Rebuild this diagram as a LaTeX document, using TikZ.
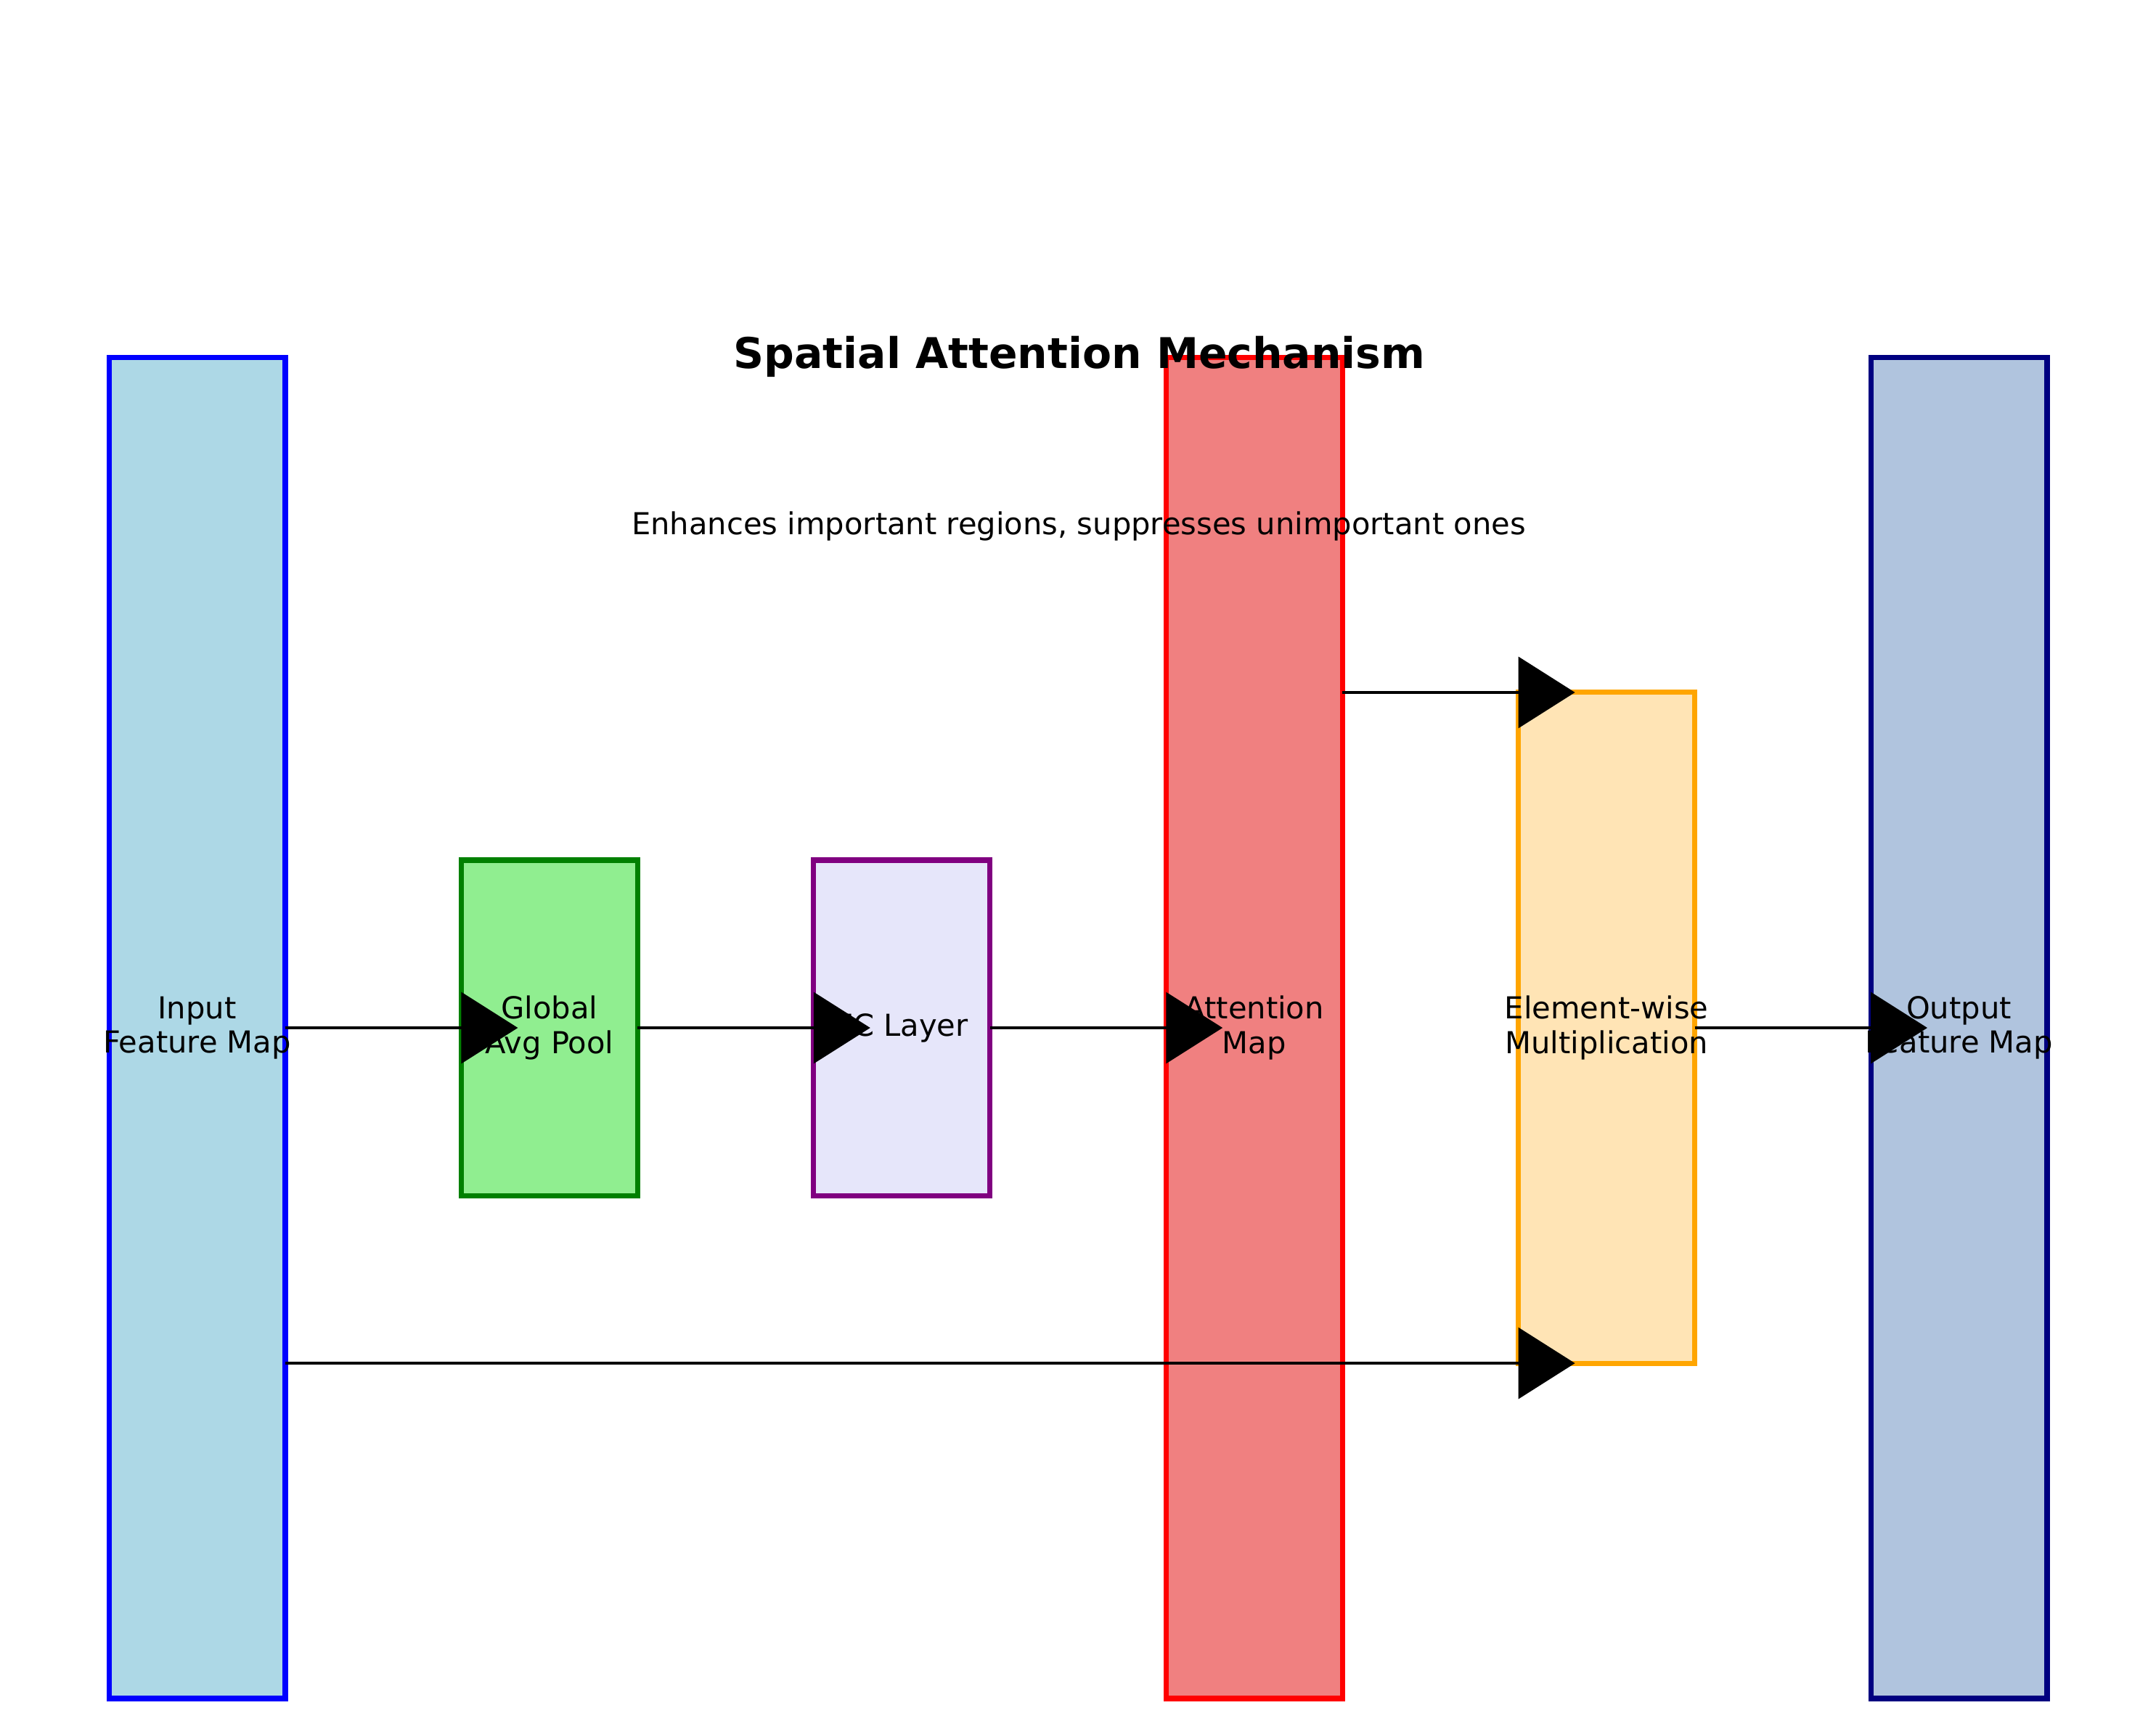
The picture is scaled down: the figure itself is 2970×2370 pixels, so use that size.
\documentclass[tikz,border=0pt]{standalone}
\usepackage{fontspec}
\setmainfont{DejaVu Sans}
\usetikzlibrary{arrows.meta}
\definecolor{cLightBlue}{HTML}{ADD8E6}
\definecolor{cLightGreen}{HTML}{90EE90}
\definecolor{cGreen}{HTML}{008000}
\definecolor{cLavender}{HTML}{E6E6FA}
\definecolor{cPurple}{HTML}{800080}
\definecolor{cCoral}{HTML}{F08080}
\definecolor{cMoccasin}{HTML}{FFE4B5}
\definecolor{cOrange}{HTML}{FFA500}
\definecolor{cSteel}{HTML}{B0C4DE}
\definecolor{cNavy}{HTML}{000080}
\tikzset{
  blk/.style={draw, line width=1.7pt, inner sep=0pt, outer sep=0pt, minimum width=58.3pt},
  tallblk/.style={blk, minimum height=443.5pt},
  midblk/.style={blk, minimum height=221.8pt},
  smallblk/.style={blk, minimum height=110.9pt},
  lbl/.style={inner sep=0pt, align=center, font=\fontsize{10}{11.4}\selectfont},
  conn/.style={line width=0.9pt, -{Triangle[length=18.7pt,width=23.5pt]}}
}
\begin{document}
\begin{tikzpicture}[x=0.24pt,y=-0.24pt]
\useasboundingbox (0,0) rectangle (2970,2370);
\node[tallblk, fill=cLightBlue, draw=blue] (inp) at (271.5,1416) {};
\node[smallblk, fill=cLightGreen, draw=cGreen] (gap) at (756.9,1416) {};
\node[smallblk, fill=cLavender, draw=cPurple] (fc) at (1242.3,1416) {};
\node[tallblk, fill=cCoral, draw=red] (att) at (1727.7,1416) {};
\node[midblk, fill=cMoccasin, draw=cOrange] (mul) at (2213.1,1416) {};
\node[tallblk, fill=cSteel, draw=cNavy] (out) at (2698.5,1416) {};
\node[lbl] (inpL) at (inp.center) {Input\\Feature Map};
\node[lbl] (gapL) at (gap.center) {Global\\Avg Pool};
\node[lbl] (fcL) at (fc.center) {FC Layer};
\node[lbl] (attL) at (att.center) {Attention\\Map};
\node[lbl] (mulL) at (mul.center) {Element-wise\\Multiplication};
\node[lbl] (outL) at (out.center) {Output\\Feature Map};
\node[font=\fontsize{14}{16}\selectfont\bfseries] (title) at (1487,491) {Spatial Attention Mechanism};
\node[font=\fontsize{10}{12}\selectfont] (sub) at (1486,725) {Enhances important regions, suppresses unimportant ones};
\draw[conn] (inp.east) -- ([xshift=18.7pt]gap.west);
\draw[conn] (gap.east) -- ([xshift=18.7pt]fc.west);
\draw[conn] (fc.east) -- ([xshift=18.7pt]att.west);
\draw[conn] (mul.east) -- ([xshift=18.7pt]out.west);
\coordinate (attA) at (att.east |- mul.north);
\coordinate (mulA) at (mul.north west);
\draw[conn] (attA) -- ([xshift=18.7pt]mulA);
\coordinate (inpB) at (inp.east |- mul.south);
\coordinate (mulB) at (mul.south west);
\draw[conn] (inpB) -- ([xshift=18.7pt]mulB);
\end{tikzpicture}
\end{document}
